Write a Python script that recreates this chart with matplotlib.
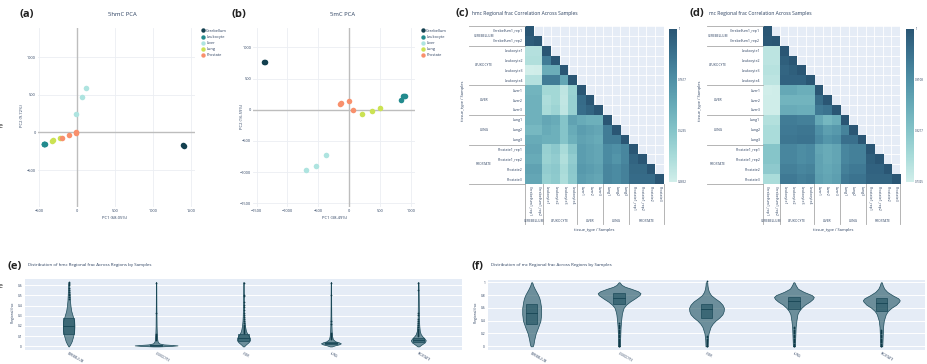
import matplotlib
matplotlib.use('Agg')
import matplotlib.pyplot as plt
import numpy as np
from matplotlib.colors import LinearSegmentedColormap
from matplotlib.patches import Rectangle

# ---------------- DATA ----------------
tissues = ['Cerebellum', 'Leukocyte', 'Liver', 'Lung', 'Prostate']
tissue_colors = ['#13404f', '#238b8e', '#aee4e0', '#cbe253', '#f8906c']

hmc_pc1 = {'Cerebellum': [1400, 1412], 'Leukocyte': [-440, -432, -428, -436],
           'Liver': [-18, 66, 123], 'Lung': [-338, -318, -228],
           'Prostate': [-202, -105, -18, -12]}
hmc_pc2 = {'Cerebellum': [-170, -176], 'Leukocyte': [-158, -150, -152, -160],
           'Liver': [239, 473, 597], 'Lung': [-113, -106, -75],
           'Prostate': [-80, -40, 0, -3]}
mc_pc1 = {'Cerebellum': [-1374, -1366], 'Leukocyte': [830, 862, 884, 900],
          'Liver': [-706, -544, -377], 'Lung': [210, 366, 490],
          'Prostate': [-151, -129, -5, 65]}
mc_pc2 = {'Cerebellum': [766, 770], 'Leukocyte': [161, 214, 219, 222],
          'Liver': [-974, -899, -723], 'Lung': [-64, -27, 32],
          'Prostate': [96, 107, 145, -5]}

samples = ['Cerebellum1_rep1', 'Cerebellum1_rep2', 'Leukocyte1', 'Leukocyte2',
           'Leukocyte3', 'Leukocyte4', 'Liver1', 'Liver2', 'Liver3', 'Lung1',
           'Lung2', 'Lung3', 'Prostate1_rep1', 'Prostate1_rep2', 'Prostate2', 'Prostate3']
groups = ['CEREBELLUM', 'LEUKOCYTE', 'LIVER', 'LUNG', 'PROSTATE']
group_sizes = [2, 4, 3, 3, 4]

hmc_corr = [
    [1.0],
    [0.97, 1.0],
    [0.37, 0.37, 1.0],
    [0.38, 0.38, 0.84, 1.0],
    [0.2852, 0.29, 0.63, 0.63, 1.0],
    [0.37, 0.37, 0.84, 0.84, 0.66, 1.0],
    [0.60, 0.60, 0.42, 0.42, 0.34, 0.45, 1.0],
    [0.61, 0.61, 0.39, 0.42, 0.33, 0.46, 0.91, 1.0],
    [0.61, 0.61, 0.40, 0.44, 0.34, 0.46, 0.90, 0.94, 1.0],
    [0.61, 0.61, 0.66, 0.64, 0.52, 0.68, 0.64, 0.62, 0.62, 1.0],
    [0.58, 0.58, 0.64, 0.62, 0.52, 0.64, 0.70, 0.68, 0.66, 0.84, 1.0],
    [0.64, 0.64, 0.62, 0.62, 0.52, 0.62, 0.68, 0.66, 0.64, 0.84, 0.84, 1.0],
    [0.66, 0.66, 0.46, 0.50, 0.40, 0.51, 0.70, 0.68, 0.66, 0.78, 0.76, 0.80, 1.0],
    [0.64, 0.64, 0.45, 0.48, 0.38, 0.48, 0.70, 0.68, 0.66, 0.78, 0.74, 0.80, 0.94, 1.0],
    [0.68, 0.68, 0.48, 0.50, 0.40, 0.50, 0.72, 0.70, 0.68, 0.80, 0.78, 0.82, 0.92, 0.92, 1.0],
    [0.66, 0.66, 0.46, 0.49, 0.39, 0.49, 0.70, 0.68, 0.66, 0.80, 0.78, 0.82, 0.91, 0.91, 0.91, 1.0],
]
mc_corr = [
    [1.0],
    [0.995, 1.0],
    [0.755, 0.755, 1.0],
    [0.755, 0.755, 0.985, 1.0],
    [0.76, 0.76, 0.975, 0.985, 1.0],
    [0.755, 0.755, 0.98, 0.98, 0.98, 1.0],
    [0.7325, 0.735, 0.87, 0.87, 0.86, 0.86, 1.0],
    [0.735, 0.735, 0.85, 0.85, 0.85, 0.85, 0.965, 1.0],
    [0.735, 0.735, 0.865, 0.865, 0.86, 0.86, 0.945, 0.955, 1.0],
    [0.765, 0.765, 0.94, 0.94, 0.935, 0.935, 0.87, 0.845, 0.86, 1.0],
    [0.775, 0.775, 0.945, 0.945, 0.95, 0.95, 0.91, 0.885, 0.895, 0.93, 1.0],
    [0.775, 0.775, 0.95, 0.95, 0.955, 0.955, 0.92, 0.90, 0.91, 0.96, 0.96, 1.0],
    [0.82, 0.82, 0.925, 0.925, 0.915, 0.92, 0.875, 0.865, 0.875, 0.925, 0.935, 0.935, 1.0],
    [0.82, 0.82, 0.925, 0.925, 0.915, 0.92, 0.88, 0.865, 0.875, 0.925, 0.935, 0.935, 0.985, 1.0],
    [0.81, 0.81, 0.935, 0.935, 0.925, 0.93, 0.88, 0.87, 0.88, 0.935, 0.945, 0.945, 0.98, 0.98, 1.0],
    [0.775, 0.775, 0.945, 0.945, 0.935, 0.94, 0.885, 0.875, 0.885, 0.945, 0.955, 0.955, 0.975, 0.975, 0.975, 1.0],
]

regions = ['CEREBELLUM', 'LEUKOCYTE', 'LIVER', 'LUNG', 'PROSTATE']

# hmc violins: density profiles (level, relative density)
hmc_levels = {
    'CEREBELLUM': [0, 0.02, 0.05, 0.1, 0.15, 0.2, 0.25, 0.3, 0.35, 0.4, 0.45, 0.5, 0.55, 0.6, 0.63],
    'LEUKOCYTE': [0, 0.005, 0.01, 0.015, 0.02, 0.03, 0.05, 0.08, 0.12, 0.2, 0.3, 0.4, 0.5, 0.6, 0.63],
    'LIVER': [0, 0.02, 0.04, 0.06, 0.08, 0.1, 0.12, 0.15, 0.2, 0.25, 0.3, 0.4, 0.5, 0.6, 0.63],
    'LUNG': [0, 0.01, 0.02, 0.03, 0.04, 0.05, 0.07, 0.1, 0.15, 0.2, 0.3, 0.4, 0.5, 0.6, 0.63],
    'PROSTATE': [0, 0.02, 0.04, 0.06, 0.08, 0.1, 0.12, 0.15, 0.2, 0.25, 0.3, 0.4, 0.5, 0.6, 0.63],
}
hmc_density = {
    'CEREBELLUM': [0.5, 3, 6, 9, 11, 11.5, 11, 8, 5, 3.5, 2.5, 2, 1.5, 1, 0.5],
    'LEUKOCYTE': [6, 30, 43, 30, 15, 6, 3, 2, 1.5, 1, 0.8, 0.6, 0.5, 0.4, 0.3],
    'LIVER': [1, 5, 10, 13, 13, 11, 8, 5, 3, 2, 1.5, 1, 0.8, 0.5, 0.3],
    'LUNG': [2, 8, 16, 20, 16, 9, 4, 2.5, 1.5, 1.2, 0.8, 0.6, 0.5, 0.4, 0.3],
    'PROSTATE': [1.5, 7, 13, 15, 12, 8, 5, 3, 2, 1.5, 1.2, 1, 0.8, 0.5, 0.3],
}
hmc_box = {'CEREBELLUM': (0.118, 0.20, 0.275), 'LEUKOCYTE': (0.006, 0.012, 0.018),
           'LIVER': (0.05, 0.08, 0.118), 'LUNG': (0.02, 0.03, 0.042),
           'PROSTATE': (0.04, 0.058, 0.08)}
hmc_outliers = {
    'CEREBELLUM': [0.63, 0.62, 0.61, 0.6, 0.57, 0.55, 0.53, 0.51, 0.5, 0.48, 0.46],
    'LEUKOCYTE': [0.62, 0.33, 0.12, 0.11, 0.1, 0.09, 0.08, 0.07, 0.06],
    'LIVER': [0.62, 0.5, 0.49, 0.43, 0.41, 0.39, 0.36, 0.33, 0.31, 0.29, 0.27, 0.25,
              0.23, 0.21, 0.2, 0.19, 0.18, 0.17, 0.16, 0.15, 0.14, 0.13],
    'LUNG': [0.62, 0.5, 0.25, 0.22, 0.13, 0.12, 0.11, 0.1, 0.09, 0.08, 0.07],
    'PROSTATE': [0.62, 0.55, 0.33, 0.31, 0.27, 0.25, 0.23, 0.21, 0.19, 0.17, 0.16,
                 0.15, 0.14, 0.13, 0.12, 0.11, 0.1],
}

mc_levels = {
    'CEREBELLUM': [0, 0.03, 0.1, 0.2, 0.3, 0.4, 0.5, 0.6, 0.7, 0.75, 0.8, 0.85, 0.9, 0.95, 1.0],
    'LEUKOCYTE': [0, 0.1, 0.2, 0.3, 0.4, 0.5, 0.55, 0.6, 0.65, 0.7, 0.75, 0.8, 0.83, 0.86, 0.9, 0.93, 0.96, 1.0],
    'LIVER': [0, 0.1, 0.2, 0.3, 0.35, 0.4, 0.45, 0.5, 0.55, 0.6, 0.65, 0.7, 0.75, 0.8, 0.85, 0.9, 0.95, 1.0],
    'LUNG': [0, 0.1, 0.2, 0.3, 0.4, 0.5, 0.55, 0.6, 0.65, 0.7, 0.74, 0.77, 0.8, 0.85, 0.9, 0.95, 1.0],
    'PROSTATE': [0, 0.1, 0.2, 0.3, 0.4, 0.5, 0.55, 0.6, 0.65, 0.7, 0.72, 0.75, 0.8, 0.85, 0.9, 0.95, 1.0],
}
mc_density = {
    'CEREBELLUM': [2, 3.5, 5, 8, 13, 17.5, 19, 19, 17, 15.5, 13, 9.5, 6, 3, 1],
    'LEUKOCYTE': [2, 2, 2.5, 3, 4, 5.5, 7, 9, 14, 22, 32, 41, 43, 38, 24, 12, 5, 1],
    'LIVER': [2, 2.5, 4, 8, 12, 18, 26, 32, 34.5, 35, 32, 26, 17, 9, 5, 3, 2, 1.5],
    'LUNG': [2, 2.5, 3, 3.5, 5, 7, 10, 15, 22, 32, 38, 40, 36, 20, 8, 4, 1],
    'PROSTATE': [2, 2.5, 3, 3.5, 5, 9, 13, 20, 30, 36, 37, 34, 22, 12, 6, 3, 1],
}
mc_box = {'CEREBELLUM': (0.345, 0.517, 0.663), 'LEUKOCYTE': (0.658, 0.752, 0.83),
          'LIVER': (0.449, 0.58, 0.658), 'LUNG': (0.59, 0.70, 0.778),
          'PROSTATE': (0.548, 0.674, 0.747)}
mc_outliers = {
    'CEREBELLUM': [],
    'LEUKOCYTE': [0.0, 0.01, 0.02, 0.03, 0.05, 0.06, 0.08, 0.1, 0.12, 0.14, 0.16, 0.18,
                  0.2, 0.22, 0.24, 0.26, 0.28, 0.3, 0.32, 0.34, 0.36],
    'LIVER': [0.0, 0.01, 0.02, 0.04, 0.05, 0.07, 0.08, 0.1, 0.12, 0.14, 0.16, 1.02],
    'LUNG': [0.0, 0.01, 0.02, 0.04, 0.06, 0.08, 0.1, 0.12, 0.14, 0.16, 0.18, 0.2,
             0.22, 0.24, 0.26, 0.28, 0.3],
    'PROSTATE': [0.0, 0.01, 0.02, 0.04, 0.06, 0.08, 0.1, 0.12, 0.14, 0.16, 0.18, 0.2,
                 0.22, 0.24, 0.25],
}

# ---------------- STYLE / LAYOUT ----------------
W, H = 927, 364
plt.rcParams['font.family'] = ['Open Sans', 'DejaVu Sans']
fig = plt.figure(figsize=(W / 100, H / 100), dpi=100)
TXT = '#2a3f5f'
PBG = '#e5ecf6'
teal = LinearSegmentedColormap.from_list(
    'teal', ['#d1eeea', '#a8dbd9', '#85c4c9', '#68abb8', '#4f90a6', '#3b738f', '#2a5674'])


def rect(x0, y0, x1, y1):
    return [x0 / W, 1 - y1 / H, (x1 - x0) / W, (y1 - y0) / H]


def ftext(x, y, s, **kw):
    kw.setdefault('color', TXT)
    fig.text(x / W, 1 - y / H, s, **kw)


def fmt_num(v):
    return ('\u2212' if v < 0 else '') + f'{abs(v):g}'


def pca_panel(box, px, py, xlim, ylim, xt, yt, title, tx, xl, yl, xlx, ylx, letter, lx, legx):
    ax = fig.add_axes(rect(*box))
    ax.set_xlim(*xlim)
    ax.set_ylim(*ylim)
    for s in ax.spines.values():
        s.set_visible(False)
    ax.set_xticks(xt)
    ax.set_xticklabels([fmt_num(v) for v in xt])
    ax.set_yticks(yt)
    ax.set_yticklabels([fmt_num(v) for v in yt])
    ax.tick_params(length=0, labelsize=2.8, labelcolor=TXT, pad=1.5)
    ax.grid(True, color='#ebeef3', lw=0.6)
    ax.set_axisbelow(True)
    ax.axhline(0, color='#bdbdbd', lw=1.0, zorder=1)
    ax.axvline(0, color='#bdbdbd', lw=1.0, zorder=1)
    for t, c in zip(tissues, tissue_colors):
        ax.scatter(px[t], py[t], s=16, color=c, lw=0, zorder=3)
    ftext(tx, 15, title, fontsize=4.2, ha='center', va='center')
    ftext(xlx, 218.3, xl, fontsize=3.0, ha='center', va='center')
    ftext(ylx, 116, yl, fontsize=3.0, ha='center', va='center', rotation=90)
    ftext(lx, 14.5, letter, fontsize=8, fontweight='bold', ha='left', va='center', color='#222222')
    handles = [ax.scatter([], [], s=10, color=c, lw=0) for c in tissue_colors]
    leg = ax.legend(handles, tissues, loc='upper left',
                    bbox_to_anchor=(legx / W, 1 - 28.5 / H), bbox_transform=fig.transFigure,
                    frameon=False, fontsize=2.8, handletextpad=0.2, labelspacing=0.55,
                    borderpad=0, borderaxespad=0, handlelength=1.0, markerscale=1.0)
    for txt in leg.get_texts():
        txt.set_color(TXT)
    return ax


pca_panel((38, 28, 195, 207), hmc_pc1, hmc_pc2, (-517, 1556), (-992, 1390),
          [-500, 0, 500, 1000, 1500], [-500, 0, 500, 1000],
          '5hmC PCA', 122.7, 'PC1 (68.05%)', 'PC2 (9.72%)', 114.3, 22.3, '(a)', 20, 201.5)
pca_panel((253.3, 28, 415, 206.7), mc_pc1, mc_pc2, (-1552, 1062), (-1555, 1311),
          [-1500, -1000, -500, 0, 500, 1000], [-1500, -1000, -500, 0, 500, 1000],
          '5mC PCA', 342.7, 'PC1 (38.49%)', 'PC2 (16.59%)', 334.3, 242.3, '(b)', 232, 421.5)


def heat_panel(box, rows, cbx, title, tx, letter, lx, sepx, grpx, ylx, xlx):
    x0, y0, x1, y1 = box
    n = len(samples)
    M = np.full((n, n), np.nan)
    for i, r in enumerate(rows):
        M[i, :len(r)] = r
    vmin = float(np.nanmin(M))
    ax = fig.add_axes(rect(*box))
    ax.set_facecolor(PBG)
    im = ax.imshow(np.ma.masked_invalid(M), cmap=teal, vmin=vmin, vmax=1.0, aspect='auto',
                   interpolation='nearest', extent=(-0.5, n - 0.5, n - 0.5, -0.5), zorder=1)
    ax.set_xlim(-0.5, n - 0.5)
    ax.set_ylim(n - 0.5, -0.5)
    for s in ax.spines.values():
        s.set_visible(False)
    ax.set_xticks(np.arange(n + 1) - 0.5, minor=True)
    ax.set_yticks(np.arange(n + 1) - 0.5, minor=True)
    ax.grid(which='minor', color='white', lw=0.6)
    ax.set_axisbelow(True)
    ax.set_xticks(np.arange(n))
    ax.set_yticks(np.arange(n))
    ax.set_xticklabels(samples, rotation=-90)
    ax.set_yticklabels(samples)
    ax.tick_params(which='both', length=0, labelsize=2.5, labelcolor=TXT, pad=1.8)
    bounds = np.concatenate([[0], np.cumsum(group_sizes)]) - 0.5
    fx = (sepx - x0) / (x1 - x0)
    fy = -(224 - y1) / (y1 - y0)
    for b in bounds:
        ax.plot([fx, 0], [b, b], transform=ax.get_yaxis_transform(), color='#a8a8a8',
                lw=0.6, clip_on=False)
        ax.plot([b, b], [0, fy], transform=ax.get_xaxis_transform(), color='#a8a8a8',
                lw=0.6, clip_on=False)
    gfx = (grpx - x0) / (x1 - x0)
    gfy = -(221.5 - y1) / (y1 - y0)
    for g, a, b in zip(groups, bounds[:-1], bounds[1:]):
        c = (a + b) / 2
        ax.text(gfx, c, g, transform=ax.get_yaxis_transform(), fontsize=2.3, color=TXT,
                ha='center', va='center')
        ax.text(c, gfy, g, transform=ax.get_xaxis_transform(), fontsize=2.3, color=TXT,
                ha='center', va='center')
    cax = fig.add_axes(rect(cbx, 29, cbx + 7.7, 181.7))
    cb = fig.colorbar(im, cax=cax)
    cb.outline.set_visible(False)
    ticks = np.linspace(vmin, 1.0, 4)
    cb.set_ticks(ticks)
    cb.set_ticklabels([f'{t:.4f}'.rstrip('0').rstrip('.') for t in ticks])
    cax.tick_params(length=0, labelsize=2.1, labelcolor=TXT, pad=1.2)
    ftext(tx, 13.7, title, fontsize=3.6, ha='left', va='center')
    ftext(lx, 13.7, letter, fontsize=8, fontweight='bold', ha='left', va='center', color='#222222')
    ftext(ylx, 101, 'tissue_type / Samples', fontsize=2.9, ha='center', va='center', rotation=90)
    ftext(xlx, 230, 'tissue_type / Samples', fontsize=2.9, ha='center', va='center')


heat_panel((525.3, 26, 663.7, 184), hmc_corr, 669, 'hmc Regional frac Correlation Across Samples',
           471.7, '(c)', 455.5, 469, 484, 463, 594)
heat_panel((762.7, 26, 900, 184), mc_corr, 906, 'mc Regional frac Correlation Across Samples',
           709.3, '(d)', 689.5, 707, 718, 700, 833)


def violin_panel(box, levels, dens, boxes, outl, ylim, yt, ytl, title, tx, letter, lx, ylx):
    ax = fig.add_axes(rect(*box))
    ax.set_facecolor(PBG)
    for s in ax.spines.values():
        s.set_visible(False)
    ax.set_xlim(-0.5, len(regions) - 0.5)
    ax.set_ylim(*ylim)
    ax.set_yticks(yt)
    ax.set_yticklabels(ytl)
    ax.yaxis.grid(True, color='white', lw=0.7)
    ax.set_axisbelow(True)
    ax.set_xticks(np.arange(len(regions)))
    ax.set_xticklabels(regions, rotation=-30, ha='left', va='top', rotation_mode='anchor')
    ax.tick_params(axis='x', length=0, labelsize=2.2, labelcolor=TXT, pad=1.2)
    ax.tick_params(axis='y', length=0, labelsize=2.3, labelcolor=TXT, pad=2)
    dmax = max(max(v) for v in dens.values())
    vline = '#1b4a59'
    vfill = (0.11, 0.31, 0.37, 0.6)
    for i, r in enumerate(regions):
        lv = np.array(levels[r])
        hw = np.array(dens[r]) / dmax * 0.245
        ax.fill_betweenx(lv, i - hw, i + hw, facecolor=vfill, edgecolor=vline, lw=0.5, zorder=3)
        q1, med, q3 = boxes[r]
        bw = 0.13
        ax.add_patch(Rectangle((i - bw / 2, q1), bw, q3 - q1, facecolor=vfill,
                               edgecolor=vline, lw=0.5, zorder=4))
        ax.plot([i - bw / 2, i + bw / 2], [med, med], color=vline, lw=0.7, zorder=5)
        if outl[r]:
            ax.scatter([i] * len(outl[r]), outl[r], s=1.6, color='#0f3a48', lw=0, zorder=6)
    ftext(tx, 265.2, title, fontsize=3.2, ha='left', va='center')
    ftext(lx, 266.5, letter, fontsize=8, fontweight='bold', ha='left', va='center', color='#222222')
    ftext(ylx, 313, 'Regional frac', fontsize=2.4, ha='center', va='center', rotation=90)
    return ax


violin_panel((25, 279, 462, 350), hmc_levels, hmc_density, hmc_box, hmc_outliers,
             (-0.035, 0.66), [0, 0.1, 0.2, 0.3, 0.4, 0.5, 0.6],
             ['0', '0.1', '0.2', '0.3', '0.4', '0.5', '0.6'],
             'Distribution of hmc Regional frac Across Regions by Samples', 28, '(e)', 7, 12.7)
violin_panel((488, 280, 925, 350), mc_levels, mc_density, mc_box, mc_outliers,
             (-0.058, 1.036), [0, 0.2, 0.4, 0.6, 0.8, 1.0],
             ['0', '0.2', '0.4', '0.6', '0.8', '1'],
             'Distribution of mc Regional frac Across Regions by Samples', 490.7, '(f)', 471.5, 475.7)

# cropped fragments at left edge
ftext(0.5, 126, 'e', fontsize=5, ha='center', va='center', color='#222222')
ftext(0.5, 286, 'e', fontsize=5, ha='center', va='center', color='#222222')

fig.savefig('out.png', dpi=100)
